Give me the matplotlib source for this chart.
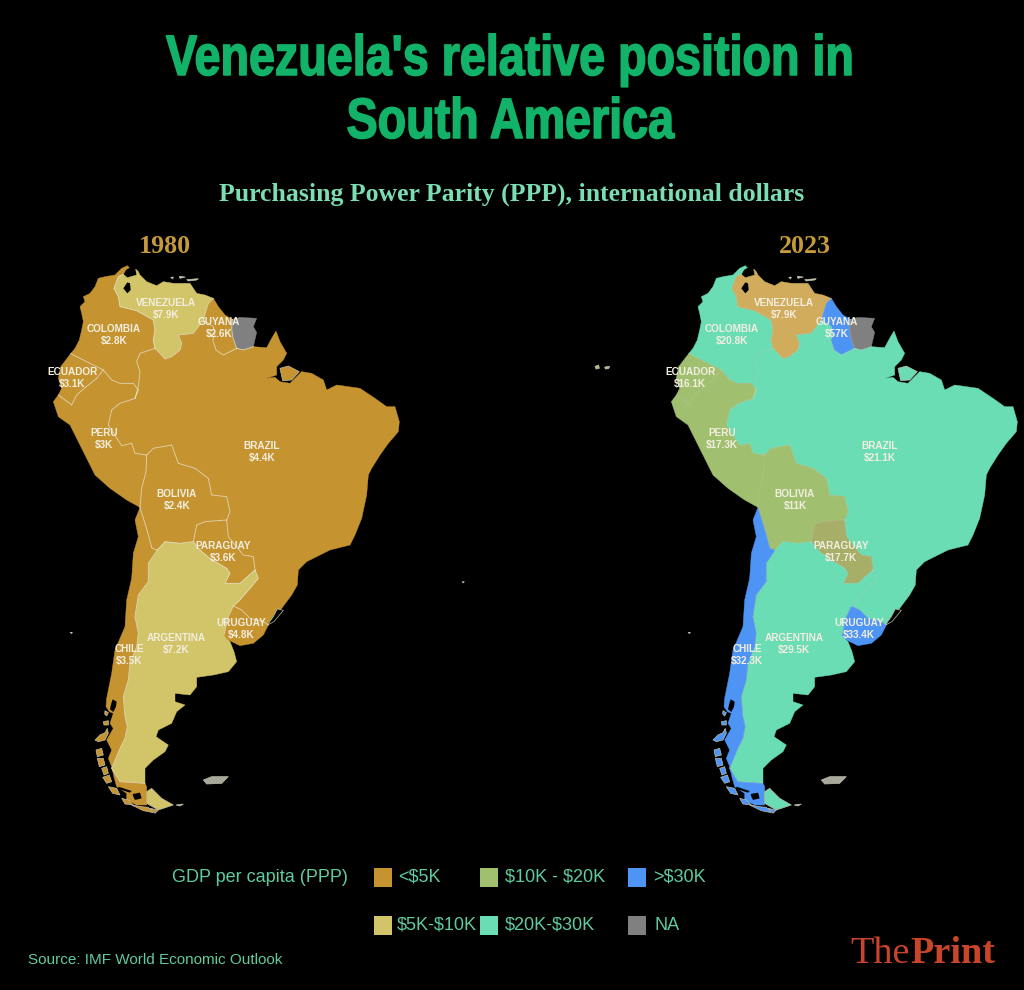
import matplotlib
matplotlib.use("Agg")
import matplotlib.pyplot as plt
from matplotlib.patches import Rectangle
from matplotlib.patheffects import AbstractPathEffect
from matplotlib.transforms import Affine2D

W, H = 1024, 990
BG = "#000000"
C_LOW, C_MIDLOW, C_MID, C_HIGH, C_TOP, C_NA = "#C59430", "#D2C468", "#A0C070", "#6BDDB5", "#4D94F5", "#808080"
C_VEN_2023 = "#D1AC5C"
C_PAR_2023 = "#A6AE68"
C_TEXT = "#5FCB9E"
C_TITLE = "#12B368"

COUNTRIES = ["VENEZUELA", "GUYANA", "COLOMBIA", "ECUADOR", "PERU", "BRAZIL", "BOLIVIA",
             "PARAGUAY", "ARGENTINA", "URUGUAY", "CHILE"]
GDP_1980 = [7.9, 2.6, 2.8, 3.1, 3, 4.4, 2.4, 3.6, 7.2, 4.8, 3.5]
GDP_2023 = [7.9, 57, 20.8, 16.1, 17.3, 21.1, 11, 17.7, 29.5, 33.4, 32.3]

LEGEND_LABELS = ["<\\$5K", "\\$5K-\\$10K", "\\$10K - \\$20K", "\\$20K-\\$30K", ">\\$30K", "NA"]


def south(pts):
    """Patagonia was traced in its own crop; shift it into map units."""
    return [(x + 150, y + 1305) for x, y in pts]


# Outlines (map units: 3 per pixel of the reference)
COAST_COL = [(250,58),(258,44),(268,38),(262,32),(245,40),(225,60),(195,65),(175,70),(165,95),(150,115),(130,125),(135,140),(120,155),(125,175),(130,200),(125,225),(118,255),(105,280),(92,296)]
B_COL_ECU = [(92,296),(130,315),(160,330),(190,345)]
B_COL_PER = [(190,345),(215,375),(240,385),(280,385),(295,405),(285,430)]
B_COL_BRA = [(285,430),(295,395),(300,350),(290,320),(300,295),(345,280)]
B_COL_VEN = [(345,280),(340,255),(345,225),(340,195),(290,167),(240,155),(235,125),(222,100),(235,65),(250,58)]
COAST_VEN = [(250,58),(262,68),(290,60),(287,42),(295,50),(300,60),(320,80),(350,92),(370,80),(400,85),(430,85),(450,85),(470,115),(495,120),(520,130)]
B_VEN_GUY = [(520,130),(505,145),(497,170),(490,195)]
B_VEN_BRA = [(490,195),(475,215),(460,235),(415,240),(425,265),(420,285),(395,305),(375,312),(355,290),(345,280)]
COAST_GUY = [(520,130),(535,155),(555,180),(577,193)]
B_GUY_SUR = [(577,193),(575,220),(578,245),(590,280)]
B_GUY_BRA = [(590,280),(550,300),(528,285),(518,255),(525,240),(520,215),(490,195)]
COAST_SUR = [(577,193),(600,187),(650,190),(640,215),(650,232),(640,275)]
B_SUR_BRA = [(640,275),(610,285),(590,280)]
COAST_BRA = [(640,275),(680,278),(695,250),(708,228),(720,260),(740,295),(730,315),(710,335),(710,360),(680,370),(705,367),(720,380),(750,385),(785,350),(815,355),(850,375),(860,405),(890,390),(960,400),(1005,430),(1040,455),(1065,455),(1078,500),(1075,530),(1045,565),(1020,600),(995,640),(985,660),(980,720),(965,790),(945,840),(930,870),(870,885),(840,900),(800,920),(775,945),(772,990),(755,1020),(725,1060),(705,1090),(685,1110)]
B_BRA_URY = [(685,1110),(670,1100),(630,1090),(605,1065),(580,1053)]
B_BRA_ARG = [(580,1053),(600,1035),(630,1000),(655,970),(645,945)]
B_PAR_BRA = [(645,945),(640,905),(610,900),(565,845),(560,795)]
B_BOL_BRA = [(560,795),(570,770),(560,725),(515,720),(505,670),(465,640),(415,625),(395,570),(340,580),(320,600)]
B_PER_BRA = [(320,600),(285,595),(275,565),(245,572),(205,510),(215,465),(240,445),(285,430)]
B_PAR_ARG = [(645,945),(600,985),(555,985),(570,955),(560,940),(510,910),(485,890),(460,860)]
B_PAR_BOL = [(560,795),(495,800),(470,810),(460,860)]
B_BOL_ARG = [(460,860),(420,865),(375,860),(352,885)]
B_BOL_CHI = [(352,885),(336,880),(321,825),(300,757)]
B_PER_BOL = [(320,600),(318,650),(305,700),(300,757)]
COAST_PER = [(300,757),(260,735),(210,700),(165,660),(125,580),(90,510),(55,485),(40,440),(55,420)]
B_ECU_PER = [(55,420),(95,450),(110,420),(135,398),(170,370),(190,345)]
COAST_ECU = [(55,420),(65,400),(55,370),(62,335),(92,296)]
COAST_CHI = [(300,757),(285,795),(295,845),(280,895),(275,970),(260,1035),(255,1115),(225,1185),(215,1255),(205,1305)] + south(
    [(50,25),(48,50),(58,65),(70,70),(60,100),(70,115),(50,150),(65,180),(55,205),(65,230),(72,262),(80,290),(110,310),(110,330),(140,345),(170,345),(170,290),(165,280)])
B_CHI_ARG = [(315,1585),(240,1580),(215,1540),(240,1480),(255,1450),(262,1415),(255,1385),(250,1325),(265,1275),(270,1225),(290,1175),(295,1135),(285,1085),(295,1020),(325,980),(325,925),(352,885)]
COAST_ARG = [(552,1140),(570,1160),(582,1190),(590,1220),(565,1250),(520,1260),(470,1267),(470,1295),(450,1320),(405,1315),(405,1340),(435,1350),(410,1370),(395,1405),(355,1425),(348,1445),(385,1470),(375,1490),(340,1515),(315,1540),(315,1585)]
B_ARG_URY = [(580,1053),(565,1085),(552,1140)]
COAST_URY = [(552,1140),(565,1155),(600,1172),(640,1165),(670,1140),(685,1110)]
TIERRA_ARG = south([(170,305),(170,340),(205,360),(250,345),(215,325),(185,295)])
MARAJO = [(720,340),(745,333),(778,350),(755,375),(728,377)]
LAKE = [(262,82),(270,85),(272,105),(262,115),(250,100)]
WATER_SOUTH = [south(p) for p in (
    [(68,28),(80,35),(78,50),(70,66),(60,58),(64,40)],
    [(85,290),(125,303),(120,308),(85,297)],
    [(128,312),(150,308),(155,325),(135,330),(130,320)],
)]
LAGOON = [(712,1062),(730,1066),(702,1100),(682,1110),(700,1085)]
ISLETS_VEN = [[(392,67),(400,66),(398,72)], [(418,64),(436,66),(420,70)], [(440,74),(475,71),(470,75),(445,78)]]
ISLANDS_CHI = [south(p) for p in (
    [(45,62),(55,68),(50,78),(44,72)],
    [(40,95),(55,92),(55,105),(42,105)],
    [(15,150),(30,135),(45,128),(52,115),(55,130),(45,150),(25,155)],
    [(18,180),(35,175),(40,195),(22,200)],
    [(22,205),(40,205),(45,225),(28,230)],
    [(35,235),(50,230),(55,250),(42,255)],
    [(38,262),(58,255),(65,275),(50,280)],
    [(55,290),(80,295),(90,315),(68,310)],
    [(95,325),(115,330),(130,345),(105,342)],
    [(125,345),(155,350),(175,352),(190,368),(160,362)],
    [(180,355),(205,360),(195,370)],
)]
STATEN = south([(258,345),(280,342),(270,348)])
FALKLANDS = [[(490,1575),(515,1565),(565,1565),(545,1585),(500,1587)]]
GALAPAGOS = [[(-189,334),(-178,330),(-176,340),(-186,342)], [(-160,336),(-145,334),(-148,341),(-158,342)]]
DOTS = [[(90,1132),(97,1132),(95,1136)], [(1266,980),(1273,980),(1270,984)]]

# Text positions in reference pixels (left map), centre of the two-line label
LABEL_XY = {"VENEZUELA": (166,309), "GUYANA": (219,328), "COLOMBIA": (114,335), "ECUADOR": (72,378), "PERU": (104,439),
            "BRAZIL": (262,452), "BOLIVIA": (177,500), "PARAGUAY": (223,552), "ARGENTINA": (176,644), "URUGUAY": (241,629), "CHILE": (129,655)}


def chain(*segments):
    pts = []
    for s in segments:
        pts.extend(s)
    return pts


def rev(s):
    return s[::-1]


SHAPES = {
    "COLOMBIA": chain(COAST_COL, B_COL_ECU, B_COL_PER, B_COL_BRA, B_COL_VEN),
    "VENEZUELA": chain(COAST_VEN, B_VEN_GUY, B_VEN_BRA, B_COL_VEN),
    "GUYANA": chain(COAST_GUY, B_GUY_SUR, B_GUY_BRA, rev(B_VEN_GUY)),
    "SURINAME": chain(COAST_SUR, B_SUR_BRA, rev(B_GUY_SUR)),
    "BRAZIL": chain(COAST_BRA, B_BRA_URY, B_BRA_ARG, B_PAR_BRA, B_BOL_BRA, B_PER_BRA, B_COL_BRA, rev(B_VEN_BRA), rev(B_GUY_BRA), rev(B_SUR_BRA)),
    "PERU": chain(COAST_PER, B_ECU_PER, B_COL_PER, rev(B_PER_BRA), B_PER_BOL),
    "ECUADOR": chain(COAST_ECU, B_COL_ECU, rev(B_ECU_PER)),
    "BOLIVIA": chain(B_PAR_BOL, B_BOL_ARG, B_BOL_CHI, rev(B_PER_BOL), rev(B_BOL_BRA)),
    "PARAGUAY": chain(B_PAR_ARG, rev(B_PAR_BOL), rev(B_PAR_BRA)),
    "ARGENTINA": chain(COAST_ARG, B_CHI_ARG, rev(B_BOL_ARG), rev(B_PAR_ARG), rev(B_BRA_ARG), B_ARG_URY),
    "URUGUAY": chain(COAST_URY, B_BRA_URY, B_ARG_URY),
    "CHILE": chain(COAST_CHI, B_CHI_ARG[:0], [(315,1585)], B_CHI_ARG, B_BOL_CHI),
}
BORDERS = [B_COL_ECU, B_COL_PER, B_COL_BRA, B_COL_VEN, B_VEN_GUY, B_VEN_BRA, B_GUY_SUR, B_GUY_BRA, B_SUR_BRA, B_BRA_URY,
           B_BRA_ARG, B_PAR_BRA, B_BOL_BRA, B_PER_BRA, B_PAR_ARG, B_PAR_BOL, B_BOL_ARG, B_BOL_CHI, B_PER_BOL, B_ECU_PER,
           B_CHI_ARG, B_ARG_URY]


def bin_colour(v):
    if v < 5:
        return C_LOW
    if v < 10:
        return C_MIDLOW
    if v < 20:
        return C_MID
    if v < 30:
        return C_HIGH
    return C_TOP


def money(v):
    return f"${v:g}K"


class HScale(AbstractPathEffect):
    """Squeeze a text's glyphs sideways about a pixel column, with a small stroke for weight."""

    def __init__(self, sx, cx, stroke, colour):
        super().__init__()
        self.sx, self.cx, self.stroke, self.colour = sx, cx, stroke, colour

    def draw_path(self, renderer, gc, tpath, affine, rgbFace=None):
        t = affine + Affine2D().translate(-self.cx, 0).scale(self.sx, 1).translate(self.cx, 0)
        g = renderer.new_gc()
        g.copy_properties(gc)
        g.set_linewidth(self.stroke)
        g.set_foreground(self.colour)
        renderer.draw_path(g, tpath, t, rgbFace)
        g.restore()


fig = plt.figure(figsize=(W / 100, H / 100), dpi=100, facecolor=BG)


def fx(px):
    return px / W


def fy(py):
    return 1 - py / H


def draw_map(left_px, values, overrides, border_alpha):
    ax = fig.add_axes([fx(left_px), fy(815), 370 / W, 560 / H])
    ax.set_xlim(0, 1110)
    ax.set_ylim(1680, 0)
    ax.axis("off")
    col = {c: bin_colour(v) for c, v in zip(COUNTRIES, values)}
    col["SURINAME"] = C_NA
    col.update(overrides)
    for name, pts in SHAPES.items():
        x, y = zip(*pts)
        ax.fill(x, y, color=col[name], lw=0.3, clip_on=False, zorder=2)
    for group, c in [([TIERRA_ARG], col["ARGENTINA"]), ([MARAJO], col["BRAZIL"]), (ISLETS_VEN, "#D8D4B8"),
                     (ISLANDS_CHI, col["CHILE"]), ([STATEN], "#C8C8B8"), (FALKLANDS, "#A8A89C"), (GALAPAGOS, "#B8B890"), (DOTS, "#B0B0A0")]:
        for pts in group:
            x, y = zip(*pts)
            ax.fill(x, y, color=c, lw=0.5, ec="#C0BCA8", clip_on=False, zorder=3)
    for pts in [LAKE] + WATER_SOUTH:
        x, y = zip(*pts)
        ax.fill(x, y, color=BG, lw=0, clip_on=False, zorder=4)
    x, y = zip(*LAGOON)
    ax.fill(x, y, color=BG, ec="#B8B8A8", lw=0.5, clip_on=False, zorder=4)
    for seg in BORDERS:
        x, y = zip(*seg)
        ax.plot(x, y, color="#F0EBD8", lw=0.6, alpha=border_alpha, clip_on=False, zorder=5)
    for c, v in zip(COUNTRIES, values):
        px, py = LABEL_XY[c]
        ax.text((px - 40) * 3, (py - 255) * 3, f"{c}\n{money(v)}", ha="center", va="center", color="#F2EEDF",
                fontsize=7.2, fontweight="bold", family="Liberation Sans", linespacing=1.2, zorder=6, clip_on=False)
    return ax


draw_map(40, GDP_1980, {}, 0.8)
draw_map(658, GDP_2023, {"VENEZUELA": C_VEN_2023, "PARAGUAY": C_PAR_2023}, 0.3)

TITLE = dict(ha="center", va="baseline", color=C_TITLE, fontsize=41, fontweight="bold", family="Liberation Sans")
t1 = fig.text(fx(510.5), fy(75), "Venezuela's relative position in", **TITLE)
t2 = fig.text(fx(510.5), fy(138), "South America", **TITLE)
title_w = t1.get_window_extent(fig.canvas.get_renderer()).width
squeeze = HScale(689 / title_w, 510.5, 1.1, C_TITLE)
t1.set_path_effects([squeeze])
t2.set_path_effects([squeeze])

fig.text(fx(512), fy(201), "Purchasing Power Parity (PPP), international dollars", ha="center", va="baseline",
         color="#7CDCB2", fontsize=18.5, fontweight="bold", family="Liberation Serif")
for x, s in [(165, "1980"), (805, "2023")]:
    fig.text(fx(x), fy(253), s, ha="center", va="baseline", color="#C59A3C", fontsize=18.7, fontweight="bold", family="Liberation Serif")

LEG = dict(va="center", color=C_TEXT, family="Liberation Sans", fontsize=13)
fig.text(fx(348), fy(877), "GDP per capita (PPP)", ha="right", **LEG)
LEG_COLOURS = [C_LOW, C_MIDLOW, C_MID, C_HIGH, C_TOP, C_NA]
LEG_BOX_X = [374, 374, 480, 480, 628, 628]
LEG_TEXT_X = [398, 397, 505, 505, 653, 654]
LEG_Y = [877, 925, 877, 925, 877, 925]
for lab, c, bx, tx, y in zip(LEGEND_LABELS, LEG_COLOURS, LEG_BOX_X, LEG_TEXT_X, LEG_Y):
    fig.add_artist(Rectangle((fx(bx), fy(y + 9.5)), 18 / W, 19 / H, transform=fig.transFigure, color=c, lw=0))
    fig.text(fx(tx), fy(y), lab, ha="left", **LEG)

fig.text(fx(28), fy(960), "Source: IMF World Economic Outlook", ha="left", va="center", color=C_TEXT, family="Liberation Sans", fontsize=11)
fig.text(fx(910), fy(963), "The", ha="right", va="baseline", color="#C8452A", family="Liberation Serif", fontsize=27.5)
fig.text(fx(910), fy(963), "Print", ha="left", va="baseline", color="#C8452A", family="Liberation Serif", fontweight="bold", fontsize=27.5)

fig.savefig("out.png", dpi=100, facecolor=BG)
